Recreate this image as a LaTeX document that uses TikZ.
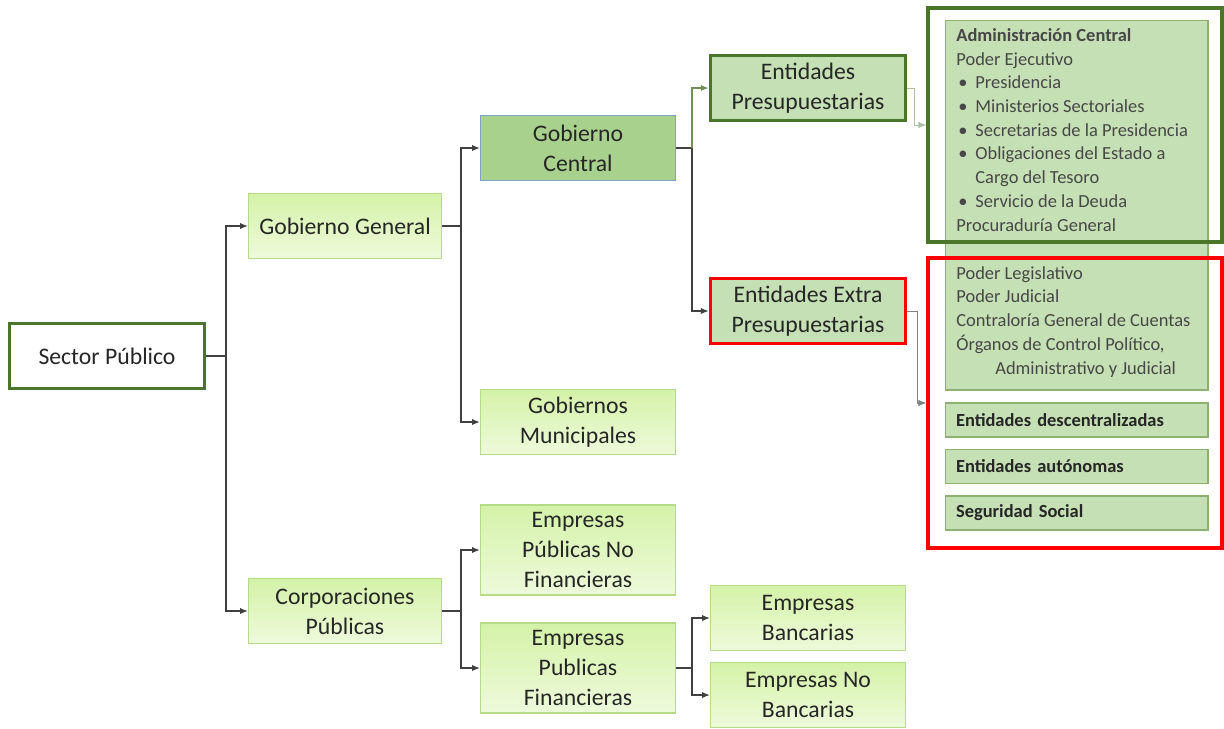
\documentclass[tikz,border=0pt]{standalone}
\usepackage{fontspec}
\setmainfont{Carlito}
\usetikzlibrary{arrows.meta}

\definecolor{darkgrn}{HTML}{4B7529}
\definecolor{midgrn}{HTML}{A9D18E}
\definecolor{palegrn}{HTML}{C5E0B4}
\definecolor{listedge}{HTML}{8DB173}
\definecolor{boxtop}{HTML}{D4F2A8}
\definecolor{boxbot}{HTML}{EEFADB}
\definecolor{boxedge}{HTML}{B5DB86}
\definecolor{blueedge}{HTML}{7FA2C9}
\definecolor{linegray}{HTML}{404040}
\definecolor{txt}{HTML}{262626}

\tikzset{
  base/.style={rectangle,align=center,text=txt,font=\fontsize{13.5}{17}\selectfont,
    minimum width=3.9cm,minimum height=1.3cm,inner sep=2pt},
  box/.style={base,draw=boxedge,line width=0.6pt,top color=boxtop,bottom color=boxbot},
  tallbox/.style={box,minimum height=1.8cm},
  link/.style={draw=linegray,line width=0.8pt,-{Latex[length=4.5pt,width=3.6pt]}},
  line/.style={draw=linegray,line width=0.8pt},
  thinlink/.style={draw=gray,line width=0.4pt,-{Latex[length=4.5pt,width=3.6pt]}},
  listbox/.style={rectangle,draw=listedge,line width=0.6pt,fill=palegrn,minimum width=5.26cm},
  itemtext/.style={font=\fontsize{10.5}{13.5}\selectfont,text=txt!85,align=left,inner sep=0pt},
  tag/.style={listbox,minimum height=0.68cm,font=\fontsize{10.5}{13.5}\selectfont\bfseries,
    text=txt,text width=4.82cm,align=left,inner xsep=0.22cm},
  frame/.style={rectangle,line width=2pt,minimum width=5.88cm}
}

\newcommand{\bul}{\makebox[0.38cm][l]{\hspace*{0.04cm}\textbullet}}

\begin{document}
\begin{tikzpicture}[x=0.02cm,y=-0.02cm]
  \useasboundingbox (0,0) rectangle (1224,728);

  % left column
  \node[base,draw=darkgrn,line width=2pt,fill=white] (SP) at (107,356) {Sector Público};
  \node[box,minimum width=3.86cm] (GG) at (345,226) {Gobierno General};
  \node[box,minimum width=3.86cm] (CP) at (345,611) {Corporaciones\\Públicas};

  % middle column
  \node[base,draw=blueedge,line width=0.6pt,fill=midgrn] (GC) at (578,148) {Gobierno\\Central};
  \node[box] (GM) at (578,422) {Gobiernos\\Municipales};
  \node[tallbox] (EPNF) at (578,550) {Empresas\\Públicas No\\Financieras};
  \node[tallbox] (EPF) at (578,668) {Empresas\\Publicas\\Financieras};

  % right column
  \node[base,draw=darkgrn,line width=2pt,fill=palegrn] (EP) at (808,88) {Entidades\\Presupuestarias};
  \node[base,draw=red,line width=2pt,fill=palegrn] (EEP) at (808,311) {Entidades Extra\\Presupuestarias};
  \node[box] (EB) at (808,618) {Empresas\\Bancarias};
  \node[box] (ENB) at (808,695) {Empresas No\\Bancarias};

  % lists on the far right
  \node[listbox,minimum height=7.4cm] (lista) at (1076.5,205) {};
  \node[itemtext,anchor=north west] (central) at (956,28) {%
    \textbf{Administración Central}\\
    Poder Ejecutivo\\
    \bul Presidencia\\
    \bul Ministerios Sectoriales\\
    \bul Secretarias de la Presidencia\\
    \bul Obligaciones del Estado a\\
    \hspace*{0.38cm}Cargo del Tesoro\\
    \bul Servicio de la Deuda\\
    Procuraduría General};
  \node[itemtext,anchor=north west] (poderes) at (956,266) {%
    Poder Legislativo\\
    Poder Judicial\\
    Contraloría General de Cuentas\\
    Órganos de Control Político,\\
    \hspace*{0.78cm}Administrativo y Judicial};
  \node[tag] (desc) at (1076.5,420) {Entidades descentralizadas};
  \node[tag] (auto) at (1076.5,466.5) {Entidades autónomas};
  \node[tag] (segu) at (1076.5,513) {Seguridad Social};

  \node[frame,draw=darkgrn,minimum height=4.68cm] (adm) at (1075,125) {};
  \node[frame,draw=red,minimum height=5.8cm] (extra) at (1075,403) {};

  % connectors
  \coordinate (b1) at (226,356);
  \coordinate (b2) at (461,226);
  \coordinate (b3) at (461,611);
  \coordinate (b4) at (692,148);
  \coordinate (b5) at (692,668);

  \draw[line] (SP.east) -- (b1);
  \draw[link] (b1) |- (GG.west);
  \draw[link] (b1) |- (CP.west);

  \draw[line] (GG.east) -- (b2);
  \draw[link] (b2) |- (GC.west);
  \draw[link] (b2) |- (GM.west);

  \draw[line] (CP.east) -- (b3);
  \draw[link] (b3) |- (EPNF.west);
  \draw[link] (b3) |- (EPF.west);

  \draw[line] (GC.east) -- (b4);
  \draw[link,draw=darkgrn!80] (b4) |- (EP.west);
  \draw[link] (b4) |- (EEP.west);

  \draw[line] (EPF.east) -- (b5);
  \draw[link] (b5) |- (EB.west);
  \draw[link] (b5) |- (ENB.west);

  \draw[thinlink,draw=darkgrn!45] (EP.east) -- ++(7,0) |- (adm.west);
  \draw[thinlink] (EEP.east) -- ++(10,0) |- (extra.west);
\end{tikzpicture}
\end{document}
